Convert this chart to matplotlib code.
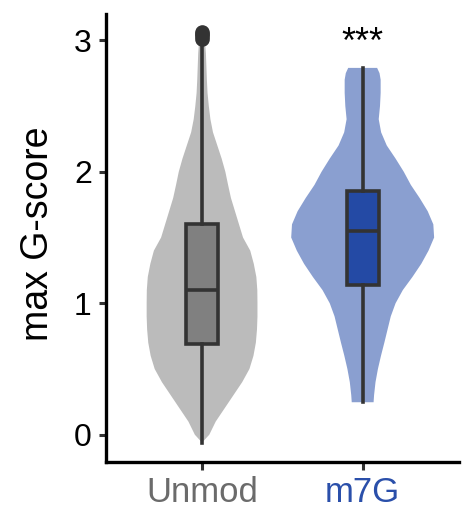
import matplotlib
matplotlib.use("Agg")
import matplotlib.pyplot as plt
import numpy as np

plt.rcParams["font.family"] = ["Liberation Sans", "DejaVu Sans"]

# Groups and their positions on the x axis
categories = ["Unmod", "m7G"]
positions = [1, 2]

# Violin outlines: density half-width (in x units) at each y level
unmod_levels = [-0.06, -0.02, 0.0, 0.1, 0.2, 0.3, 0.4, 0.5, 0.6, 0.7, 0.8, 0.9,
                1.0, 1.1, 1.2, 1.3, 1.4, 1.5, 1.6, 1.7, 1.8, 1.9, 2.0, 2.1,
                2.2, 2.3, 2.4, 2.5, 2.6, 2.7, 2.8, 2.9, 3.0, 3.065]
unmod_halfwidth = [0.0, 0.03, 0.045, 0.085, 0.14, 0.195, 0.25, 0.295, 0.32,
                   0.335, 0.342, 0.345, 0.345, 0.344, 0.338, 0.322, 0.30,
                   0.255, 0.23, 0.205, 0.18, 0.162, 0.145, 0.122, 0.095,
                   0.068, 0.052, 0.042, 0.034, 0.030, 0.027, 0.024, 0.018, 0.0]

m7g_levels = [0.247, 0.3, 0.4, 0.5, 0.6, 0.7, 0.8, 0.9, 1.0, 1.1, 1.2, 1.3,
              1.4, 1.5, 1.6, 1.7, 1.8, 1.9, 2.0, 2.1, 2.2, 2.3, 2.4, 2.5,
              2.6, 2.7, 2.75, 2.79]
m7g_halfwidth = [0.068, 0.071, 0.08, 0.095, 0.114, 0.135, 0.155, 0.175,
                 0.205, 0.25, 0.31, 0.365, 0.41, 0.445, 0.44, 0.405, 0.355,
                 0.30, 0.256, 0.205, 0.15, 0.115, 0.10, 0.108, 0.112, 0.112,
                 0.105, 0.09]

# Box-plot summaries
q1 = [0.69, 1.14]
median = [1.10, 1.55]
q3 = [1.60, 1.85]
whisker_low = [-0.06, 0.247]
whisker_high = [2.98, 2.79]
outliers = [[3.01, 3.03, 3.05, 3.065], []]

significance = "***"

violin_colors = ["#BBBBBB", "#8A9FD0"]
box_colors = ["#808080", "#244AA5"]
label_colors = ["#6B6B6B", "#2A4FAA"]
line_color = "#333333"

fig = plt.figure(figsize=(4.63, 5.28), dpi=100)
ax = fig.add_axes([0.2283, 0.1244, 0.9914 - 0.2283, 0.9735 - 0.1244])

profiles = [(unmod_levels, unmod_halfwidth), (m7g_levels, m7g_halfwidth)]
for pos, (lv, hw), col in zip(positions, profiles, violin_colors):
    lv = np.asarray(lv)
    hw = np.asarray(hw)
    ax.fill_betweenx(lv, pos - hw, pos + hw, facecolor=col,
                     edgecolor="none", zorder=1)

stats = []
for i, name in enumerate(categories):
    stats.append(dict(label=name, q1=q1[i], med=median[i], q3=q3[i],
                      whislo=whisker_low[i], whishi=whisker_high[i],
                      fliers=outliers[i]))

lw = 2.6
bp = ax.bxp(stats, positions=positions, widths=0.2, patch_artist=True,
            showcaps=False,
            boxprops=dict(linewidth=lw, edgecolor=line_color),
            medianprops=dict(linewidth=lw, color=line_color),
            whiskerprops=dict(linewidth=lw, color=line_color),
            flierprops=dict(marker="o", markersize=9.5,
                            markerfacecolor=line_color,
                            markeredgecolor=line_color))
for patch, col in zip(bp["boxes"], box_colors):
    patch.set_facecolor(col)
    patch.set_zorder(3)
for key in ("medians", "whiskers", "fliers"):
    for art in bp[key]:
        art.set_zorder(3)

ax.text(positions[1], 2.90, significance, ha="center", va="baseline",
        fontsize=26, color="black")

ax.set_xlim(0.4, 2.6)
ax.set_ylim(-0.21, 3.2)
ax.set_yticks([0, 1, 2, 3])
ax.set_xticks(positions)
ax.set_xticklabels(categories, fontsize=25)
for lab, col in zip(ax.get_xticklabels(), label_colors):
    lab.set_color(col)
ax.tick_params(axis="y", labelsize=23, length=5, width=2.2, pad=5,
               color=line_color)
ax.tick_params(axis="x", length=6, width=2.2, pad=4, color=line_color)

for side in ("top", "right"):
    ax.spines[side].set_visible(False)
for side in ("left", "bottom"):
    ax.spines[side].set_linewidth(2.4)
    ax.spines[side].set_color("black")

ax.set_ylabel("max G-score", fontsize=27)
ax.yaxis.set_label_coords(-0.14, 0.51)

fig.savefig("out.png", dpi=100)
